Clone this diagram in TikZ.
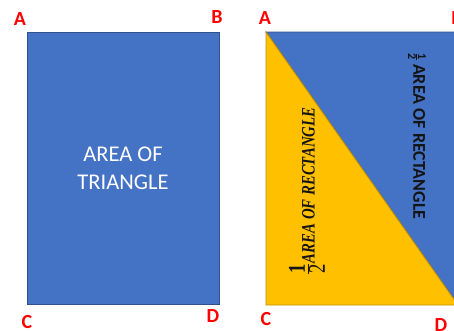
\documentclass[tikz,border=0pt]{standalone}
\usepackage{fontspec}
\setmainfont{Carlito}
\newfontfamily\serifbi{Liberation Serif}
\definecolor{rblue}{HTML}{4472C4}
\definecolor{rblueedge}{HTML}{2F528F}
\definecolor{ryellow}{HTML}{FFC000}
\definecolor{ryellowedge}{HTML}{BF9000}
\definecolor{labred}{HTML}{FF0000}
\definecolor{darktext}{HTML}{141414}
\tikzset{
  corner/.style={text=labred, font=\fontsize{20}{24}\selectfont\bfseries, inner sep=0pt},
  boxedge/.style={line width=0.9pt}
}
\begin{document}
\begin{tikzpicture}[x=1pt,y=-1pt]
\useasboundingbox (0,0) rectangle (454,330);
\clip (0,0) rectangle (454,330);
% left rectangle
\coordinate (LA) at (27,32);
\coordinate (LB) at (219,32);
\coordinate (LC) at (27,304);
\coordinate (LD) at (219,304);
\filldraw[fill=rblue, draw=rblueedge, boxedge] (LA) -- (LB) -- (LD) -- (LC) -- cycle;
\node[text=white, align=center, font=\fontsize{22.5}{28}\selectfont, inner sep=0pt] (lt) at (123,168) {AREA OF\\TRIANGLE};
% right rectangle
\coordinate (RA) at (266,32);
\coordinate (RB) at (458,32);
\coordinate (RC) at (266,305);
\coordinate (RD) at (458,305);
\filldraw[fill=rblue, draw=rblueedge, boxedge] (RA) -- (RB) -- (RD) -- cycle;
\filldraw[fill=ryellow, draw=ryellowedge, boxedge] (RA) -- (RD) -- (RC) -- cycle;
% rotated texts
\node[rotate=90, inner sep=0pt, text=darktext] (yt) at (307,191)
  {\scalebox{0.78}[1]{\fontsize{19}{22}\selectfont\serifbi\bfseries\itshape
   {\fontsize{24}{26}\selectfont$\frac{\mbox{\upshape 1}}{\mbox{\upshape\mdseries 2}}$}AREA OF RECTANGLE}};
\node[rotate=-90, inner sep=0pt, text=darktext] (bt) at (417,136)
  {\fontsize{18}{20}\selectfont\bfseries
   {\fontsize{12}{14}\selectfont$\frac{\mbox{1}}{\mbox{2}}$}\,AREA OF RECTANGLE};
% corner labels
\node[corner] (A1) at (20,19) {A};
\node[corner] (B1) at (217,17) {B};
\node[corner] (C1) at (27,322) {C};
\node[corner] (D1) at (213,316) {D};
\node[corner] (A2) at (265,18) {A};
\node[corner] (B2) at (457,18) {B};
\node[corner] (C2) at (266,319) {C};
\node[corner] (D2) at (441,325) {D};
\end{tikzpicture}
\end{document}
